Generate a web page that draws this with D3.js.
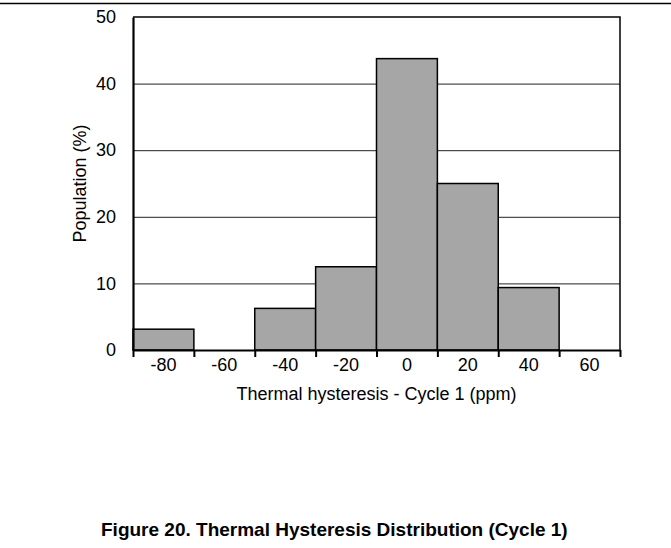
<!DOCTYPE html>
<html>
<head>
<meta charset="utf-8">
<script src="https://cdn.jsdelivr.net/npm/d3@7"></script>
<style>
  body { margin: 0; background: #fff; }
  svg { display: block; font-family: 'Liberation Sans', Arial, sans-serif; }
</style>
</head>
<body>
<div id="chart"></div>
<script>
// bins of 20 ppm centred on these values
const binCenters = [-80, -60, -40, -20, 0, 20, 40, 60];
const population = [3.125, 0, 6.25, 12.5, 43.75, 25, 9.375, 0];
const yTicks = [0, 10, 20, 30, 40, 50];
const binWidth = 20;

const width = 671;
const height = 548;
const margin = { top: 17, right: 51, bottom: 198, left: 133 };
const plotW = width - margin.left - margin.right;
const plotH = height - margin.top - margin.bottom;
const fontSize = 18;

const svg = d3.select('#chart')
  .append('svg')
    .attr('width', width)
    .attr('height', height);

// rule across top of page
svg.append('line')
  .attr('x1', 0).attr('x2', width)
  .attr('y1', 3.5).attr('y2', 3.5)
  .attr('stroke', '#000')
  .attr('stroke-width', 1.5);

const g = svg.append('g')
  .attr('transform', 'translate(' + margin.left + ',' + margin.top + ')');

const x = d3.scaleLinear()
  .domain([binCenters[0] - binWidth / 2, binCenters[binCenters.length - 1] + binWidth / 2])
  .range([0, plotW]);

const y = d3.scaleLinear()
  .domain([0, 50])
  .range([plotH, 0]);

// grid lines
g.append('g')
  .attr('class', 'grid-y')
  .call(d3.axisRight(y).tickValues(yTicks.slice(1, -1)).tickFormat('').tickSize(plotW))
  .call((s) => s.select('.domain').remove())
  .selectAll('line')
    .attr('stroke', '#222')
    .attr('stroke-width', 1);

// bars
g.append('g')
  .attr('class', 'bars')
  .selectAll('rect')
  .data(binCenters.map((c, i) => ({ c: c, v: population[i] })).filter((d) => d.v > 0))
  .enter().append('rect')
    .attr('x', (d) => x(d.c - binWidth / 2))
    .attr('y', (d) => y(d.v))
    .attr('width', (d) => x(d.c + binWidth / 2) - x(d.c - binWidth / 2))
    .attr('height', (d) => plotH - y(d.v))
    .attr('fill', '#a6a6a6')
    .attr('stroke', '#000')
    .attr('stroke-width', 1.5);

// frame top and right
g.append('path')
  .attr('d', 'M0,0H' + plotW + 'V' + plotH)
  .attr('fill', 'none')
  .attr('stroke', '#000')
  .attr('stroke-width', 1.5);

// x axis: ticks at bin edges, labels at bin centres
const edges = binCenters.map((c) => c - binWidth / 2).concat([binCenters[binCenters.length - 1] + binWidth / 2]);
const xAxis = g.append('g')
  .attr('class', 'axis-x')
  .attr('transform', 'translate(0,' + plotH + ')')
  .call(d3.axisBottom(x).tickValues(edges).tickFormat('').tickSizeInner(7).tickSizeOuter(0));
xAxis.select('.domain').attr('stroke-width', 2.2);
xAxis.selectAll('line').attr('stroke-width', 2);

g.append('g')
  .attr('class', 'x-labels')
  .selectAll('text')
  .data(binCenters)
  .enter().append('text')
    .attr('x', (d) => x(d))
    .attr('y', plotH + 21)
    .attr('text-anchor', 'middle')
    .attr('font-size', fontSize)
    .text((d) => d);

// y axis
const yAxis = g.append('g')
  .attr('class', 'axis-y')
  .call(d3.axisLeft(y).tickValues(yTicks).tickSize(0).tickPadding(17).tickSizeOuter(0));
yAxis.select('.domain').attr('stroke-width', 2.2);
yAxis.selectAll('text')
  .attr('font-size', fontSize)
  .attr('fill', '#000')
  .attr('font-family', 'Liberation Sans, Arial, sans-serif');

// axis titles
g.append('text')
  .attr('transform', 'translate(-47,' + plotH / 2 + ') rotate(-90)')
  .attr('text-anchor', 'middle')
  .attr('font-size', fontSize)
  .text('Population (%)');

g.append('text')
  .attr('x', plotW / 2)
  .attr('y', plotH + 50)
  .attr('text-anchor', 'middle')
  .attr('font-size', fontSize)
  .text('Thermal hysteresis - Cycle 1 (ppm)');

// figure caption
svg.append('text')
  .attr('x', 101)
  .attr('y', 536)
  .attr('font-size', 19)
  .attr('font-weight', 'bold')
  .text('Figure 20. Thermal Hysteresis Distribution (Cycle 1)');
</script>
</body>
</html>
